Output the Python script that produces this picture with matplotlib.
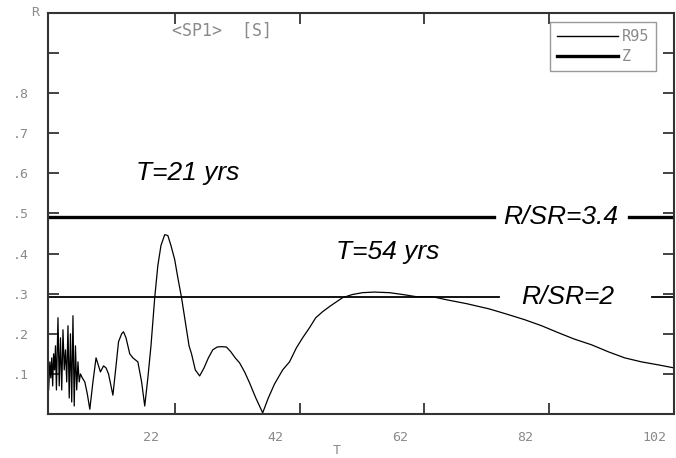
import numpy as np
import matplotlib
matplotlib.use("Agg")
import matplotlib.pyplot as plt
import matplotlib.transforms as mtransforms
from matplotlib.lines import Line2D

# Spectrum
period = [1.8, 2.0, 2.15, 2.3, 2.45, 2.6, 2.75, 2.9, 3.05, 3.3, 3.5, 3.7, 3.9, 4.1, 4.3,
          4.5, 4.7, 4.9, 5.1, 5.3, 5.5, 5.7, 5.9, 6.1, 6.3, 6.5, 6.7, 6.9, 7.2, 7.6,
          8.0, 8.4, 8.9, 9.4, 9.8, 10.1, 10.6, 11.0, 11.4, 12.1, 12.6, 13.0, 13.5, 13.8,
          14.2, 14.8, 15.3, 16.1, 16.7, 17.2, 17.7, 18.2, 18.8, 19.3, 19.8, 20.4, 20.9,
          21.4, 22.0, 22.5, 23.1, 23.7, 24.3, 24.7, 25.3, 26.0, 26.7, 27.4, 28.1, 28.8,
          29.5, 30.3, 31.0, 31.7, 32.4, 33.2, 34.0, 35.0, 36.1, 37.0, 38.0, 39.3, 40.4,
          41.5, 42.5, 43.6, 44.6, 45.7, 47.0, 48.9, 50.5, 52.1, 54.0, 56.4, 58.5, 60.7,
          63.3, 65.5, 68.8, 72.4, 75.0, 78.1, 80.8, 83.5, 86.0, 88.8, 91.5, 94.1, 96.8,
          99.5, 102.0]
r_value = [.06, .13, .09, .14, .07, .15, .11, .17, .06, .24, .07, .19, .06, .21, .11,
           .16, .08, .22, .04, .20, .03, .245, .02, .17, .06, .13, .08, .10, .09, .08,
           .05, .012, .08, .14, .12, .105, .12, .115, .10, .047, .12, .18, .20, .205,
           .19, .15, .14, .13, .08, .02, .09, .17, .29, .37, .42, .447, .445,
           .42, .385, .34, .29, .23, .17, .15, .11, .095, .115, .14, .16, .167,
           .168, .167, .155, .14, .1275, .105, .0775, .04, .003, .04, .075, .11, .13,
           .165, .19, .215, .24, .255, .27, .29, .298, .3025, .304, .3025, .298, .2925,
           .2925, .285, .275, .262, .25, .235, .22, .2025, .187, .1725, .155, .14, .13,
           .1225, .115]

r95_level = 0.292
z_level = 0.492
# line pieces left open around the in-plot labels
r95_spans = [(1.5, 74.0), (98.5, 102.5)]
z_spans = [(1.5, 73.2), (94.8, 102.5)]

xticks = [22, 42, 62, 82, 102]
yticks = [.1, .2, .3, .4, .5, .6, .7, .8, .9]
ytick_labels = [".1", ".2", ".3", ".4", ".5", ".6", ".7", ".8", ""]

gray = "#8a8a8a"
mono = "DejaVu Sans Mono"

fig = plt.figure(figsize=(6.76, 4.58), dpi=100)
ax = fig.add_axes([0.071, 0.096, 0.926, 0.876])

ax.plot(period, r_value, color="black", lw=0.9)
for a, b in r95_spans:
    ax.plot([a, b], [r95_level, r95_level], color="black", lw=1.3)
for a, b in z_spans:
    ax.plot([a, b], [z_level, z_level], color="black", lw=2.4)

ax.set_xlim(1.7, 101.9)
ax.set_ylim(0, 1.0)

ax.set_xticks(xticks)
ax.set_xticklabels([str(t) for t in xticks], fontfamily=mono, fontsize=9.5, color=gray)
ax.set_yticks(yticks)
ax.set_yticklabels(ytick_labels, fontfamily=mono, fontsize=9.5, color=gray)
ax.tick_params(axis="both", direction="in", length=8, width=1.2, color="#222222",
               top=True, right=True)
ax.tick_params(axis="x", pad=12)
ax.tick_params(axis="y", pad=14)

# x labels sit to the left of their ticks in the original
offset = mtransforms.ScaledTranslation(-32 / 100, 0, fig.dpi_scale_trans)
for lab in ax.get_xticklabels():
    lab.set_horizontalalignment("left")
    lab.set_transform(lab.get_transform() + offset)

for s in ax.spines.values():
    s.set_color("#333333")
    s.set_linewidth(1.5)

fig.text(35 / 676, 1 - 13 / 458, "R", fontfamily=mono, fontsize=9.5, color=gray,
         ha="center", va="center")
fig.text(337 / 676, 1 - 450 / 458, "T", fontfamily=mono, fontsize=9.5, color=gray,
         ha="center", va="center")
fig.text(222 / 676, 1 - 31 / 458, "<SP1>  [S]", fontfamily=mono, fontsize=12,
         color=gray, ha="center", va="center")

lab_kw = dict(fontfamily="Liberation Sans", style="italic", fontsize=19,
              ha="center", va="center", color="black")
ax.text(24.1, 0.60, "T=21 yrs", **lab_kw)
ax.text(56.2, 0.405, "T=54 yrs", **lab_kw)
ax.text(83.9, z_level, "R/SR=3.4", **lab_kw)
ax.text(85.0, r95_level, "R/SR=2", **lab_kw)

handles = [Line2D([], [], color="black", lw=1.0),
           Line2D([], [], color="black", lw=2.4)]
leg = ax.legend(handles, ["R95", "Z"], loc="upper right",
                bbox_to_anchor=(656 / 676, 1 - 22 / 458),
                bbox_transform=fig.transFigure, frameon=True, fancybox=False,
                edgecolor="#999999", framealpha=1, labelcolor=gray,
                prop={"family": mono, "size": 11}, handlelength=4.0,
                handletextpad=0.25, borderpad=0.45, labelspacing=0.35,
                borderaxespad=0)
leg.get_frame().set_linewidth(1.0)

fig.savefig("out.png", dpi=100)
